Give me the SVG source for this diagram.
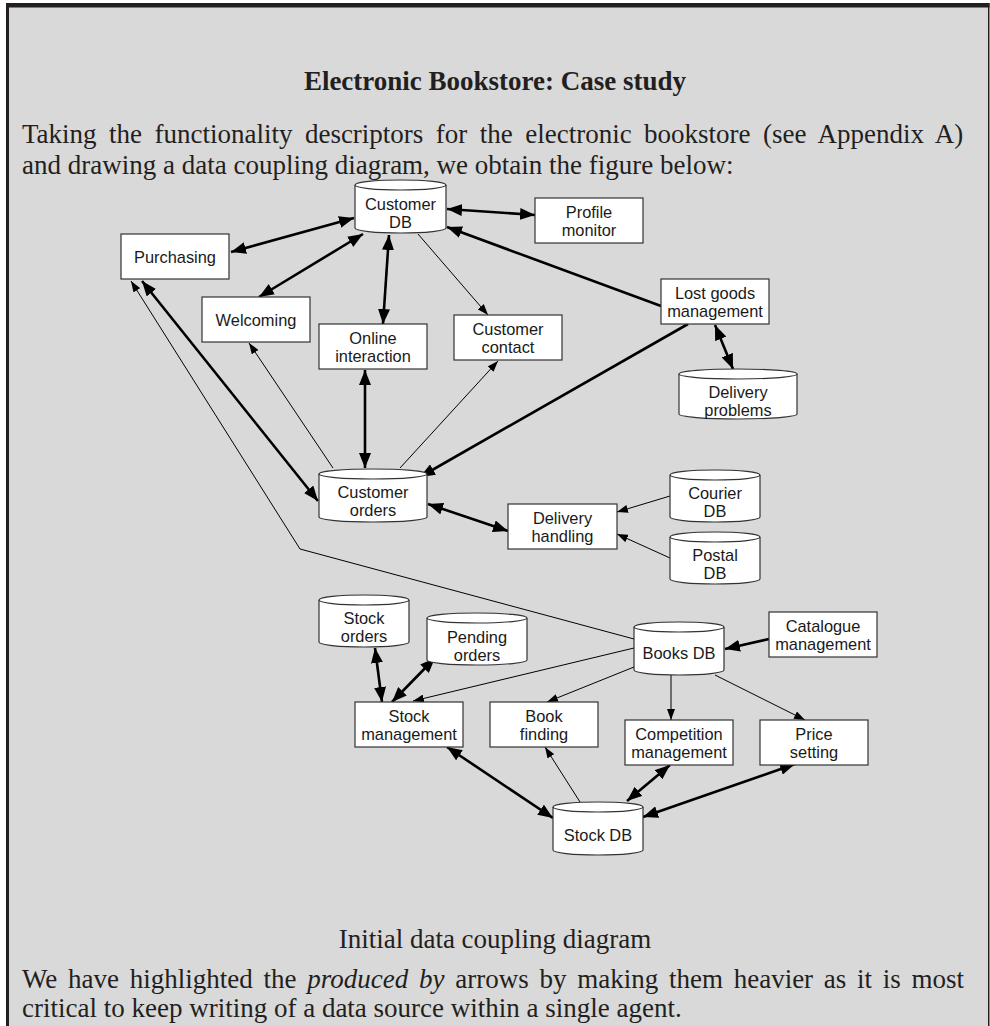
<svg xmlns="http://www.w3.org/2000/svg" width="990" height="1026" viewBox="0 0 990 1026">
  <defs>
    <style>
      .panel { fill: #d9d9d9; }
      .rule { fill: #231f20; }
      .prose { font-family: "Liberation Serif", "Times New Roman", serif; font-size: 27px; fill: #231f20; }
      .title { font-weight: bold; text-anchor: middle; }
      .node rect, .node path, .node ellipse { fill: #ffffff; stroke: #333333; stroke-width: 1.2; }
      .node text { font-family: "Liberation Sans", Arial, sans-serif; font-size: 16.4px; fill: #1a1a1a; text-anchor: middle; }
      .heavy { stroke: #000000; stroke-width: 2.6; fill: none; }
      .light { stroke: #000000; stroke-width: 1; fill: none; }
      .both { marker-start: url(#headHeavy); marker-end: url(#headHeavy); }
      .toEnd { marker-end: url(#headHeavy); }
      .toEndLight { marker-end: url(#headLight); }
    </style>
    <marker id="headHeavy" viewBox="0 0 15 12" refX="15" refY="6" markerWidth="15" markerHeight="12" markerUnits="userSpaceOnUse" orient="auto-start-reverse">
      <path d="M0,0 L15,6 L0,12 Z" fill="#000000"/>
    </marker>
    <marker id="headLight" viewBox="0 0 11 8" refX="11" refY="4" markerWidth="11" markerHeight="8" markerUnits="userSpaceOnUse" orient="auto-start-reverse">
      <path d="M0,0 L11,4 L0,8 Z" fill="#000000"/>
    </marker>
  </defs>

  <!-- framed panel -->
  <rect class="panel" x="8" y="6" width="980" height="1020"/>
  <rect class="rule" x="6" y="3" width="983.5" height="4.5"/>
  <rect class="rule" x="6" y="3" width="3" height="1023"/>
  <rect class="rule" x="988" y="3" width="1.5" height="1023"/>

  <!-- heading and introduction -->
  <text class="prose title" x="495" y="90">Electronic Bookstore: Case study</text>
  <text class="prose" x="22" y="143" word-spacing="5.7">Taking the functionality descriptors for the electronic bookstore (see Appendix A)</text>
  <text class="prose" x="22" y="174">and drawing a data coupling diagram, we obtain the figure below:</text>

  <!-- connectors -->
  <g id="connectors">
    <!-- heavy: produced by -->
    <line class="heavy both" x1="231" y1="252" x2="354" y2="218"/>
    <line class="heavy both" x1="259" y1="297" x2="363" y2="234"/>
    <line class="heavy both" x1="383" y1="324" x2="389" y2="235"/>
    <line class="heavy both" x1="447" y1="209" x2="535" y2="215"/>
    <line class="heavy both" x1="715" y1="325" x2="733" y2="369"/>
    <line class="heavy both" x1="142" y1="281" x2="318" y2="501"/>
    <line class="heavy both" x1="365" y1="370" x2="365" y2="468"/>
    <line class="heavy both" x1="428" y1="504" x2="508" y2="531"/>
    <line class="heavy both" x1="375" y1="648" x2="382" y2="702"/>
    <line class="heavy both" x1="435" y1="658" x2="392" y2="702"/>
    <line class="heavy both" x1="447" y1="747" x2="553" y2="818"/>
    <line class="heavy both" x1="670" y1="765" x2="627" y2="801"/>
    <line class="heavy both" x1="795" y1="764" x2="643" y2="817"/>
    <line class="heavy toEnd" x1="661" y1="306" x2="447" y2="227"/>
    <line class="heavy toEnd" x1="688" y1="324" x2="420" y2="477"/>
    <line class="heavy toEnd" x1="769" y1="639" x2="725" y2="649"/>
    <!-- light: used by -->
    <line class="light toEndLight" x1="418" y1="234" x2="488" y2="315"/>
    <line class="light toEndLight" x1="333" y1="468" x2="249" y2="343"/>
    <line class="light toEndLight" x1="400" y1="468" x2="498" y2="361"/>
    <line class="light toEndLight" x1="670" y1="496" x2="617" y2="512"/>
    <line class="light toEndLight" x1="670" y1="558" x2="617" y2="534"/>
    <polyline class="light toEndLight" points="634,639 300,549 131,281"/>
    <line class="light toEndLight" x1="634" y1="648" x2="413" y2="701"/>
    <line class="light toEndLight" x1="634" y1="667" x2="547" y2="702"/>
    <line class="light toEndLight" x1="671" y1="675" x2="671" y2="720"/>
    <line class="light toEndLight" x1="715" y1="675" x2="805" y2="720"/>
    <line class="light toEndLight" x1="580" y1="802" x2="545" y2="747"/>
  </g>

  <!-- data stores -->
  <g id="customer-db" class="node">
    <path d="M355,185 V228 A45.5,5 0 0 0 446,228 V185"/>
    <ellipse cx="400.5" cy="185" rx="45.5" ry="5"/>
    <text x="400.5" y="210">Customer</text>
    <text x="400.5" y="228">DB</text>
  </g>
  <g id="delivery-problems" class="node">
    <path d="M679,374 V414 A59,5 0 0 0 797,414 V374"/>
    <ellipse cx="738" cy="374" rx="59" ry="5"/>
    <text x="738" y="398">Delivery</text>
    <text x="738" y="416">problems</text>
  </g>
  <g id="customer-orders" class="node">
    <path d="M319,474 V517 A54,5 0 0 0 427,517 V474"/>
    <ellipse cx="373" cy="474" rx="54" ry="5"/>
    <text x="373" y="498">Customer</text>
    <text x="373" y="516">orders</text>
  </g>
  <g id="courier-db" class="node">
    <path d="M670,475 V517 A45,5 0 0 0 760,517 V475"/>
    <ellipse cx="715" cy="475" rx="45" ry="5"/>
    <text x="715" y="499">Courier</text>
    <text x="715" y="517">DB</text>
  </g>
  <g id="postal-db" class="node">
    <path d="M670,537 V579 A45,5 0 0 0 760,579 V537"/>
    <ellipse cx="715" cy="537" rx="45" ry="5"/>
    <text x="715" y="561">Postal</text>
    <text x="715" y="579">DB</text>
  </g>
  <g id="stock-orders" class="node">
    <path d="M319,600 V642 A45,5 0 0 0 409,642 V600"/>
    <ellipse cx="364" cy="600" rx="45" ry="5"/>
    <text x="364" y="624">Stock</text>
    <text x="364" y="642">orders</text>
  </g>
  <g id="pending-orders" class="node">
    <path d="M427,618 V660 A50,5 0 0 0 527,660 V618"/>
    <ellipse cx="477" cy="618" rx="50" ry="5"/>
    <text x="477" y="643">Pending</text>
    <text x="477" y="661">orders</text>
  </g>
  <g id="books-db" class="node">
    <path d="M634,627 V670 A45,5 0 0 0 724,670 V627"/>
    <ellipse cx="679" cy="627" rx="45" ry="5"/>
    <text x="679" y="659">Books DB</text>
  </g>
  <g id="stock-db" class="node">
    <path d="M553,807 V850 A45,5 0 0 0 643,850 V807"/>
    <ellipse cx="598" cy="807" rx="45" ry="5"/>
    <text x="598" y="841">Stock DB</text>
  </g>

  <!-- agents -->
  <g id="purchasing" class="node">
    <rect x="121" y="234" width="108" height="45"/>
    <text x="175" y="262.5">Purchasing</text>
  </g>
  <g id="welcoming" class="node">
    <rect x="202" y="297" width="108" height="45"/>
    <text x="256" y="325.5">Welcoming</text>
  </g>
  <g id="online-interaction" class="node">
    <rect x="319" y="324" width="108" height="45"/>
    <text x="373" y="343.5">Online</text>
    <text x="373" y="361.5">interaction</text>
  </g>
  <g id="customer-contact" class="node">
    <rect x="454" y="315" width="108" height="45"/>
    <text x="508" y="334.5">Customer</text>
    <text x="508" y="352.5">contact</text>
  </g>
  <g id="profile-monitor" class="node">
    <rect x="535" y="198" width="108" height="45"/>
    <text x="589" y="217.5">Profile</text>
    <text x="589" y="235.5">monitor</text>
  </g>
  <g id="lost-goods-management" class="node">
    <rect x="661" y="279" width="108" height="45"/>
    <text x="715" y="298.5">Lost goods</text>
    <text x="715" y="316.5">management</text>
  </g>
  <g id="delivery-handling" class="node">
    <rect x="508" y="504" width="109" height="45"/>
    <text x="562.5" y="523.5">Delivery</text>
    <text x="562.5" y="541.5">handling</text>
  </g>
  <g id="stock-management" class="node">
    <rect x="355" y="702" width="108" height="45"/>
    <text x="409" y="721.5">Stock</text>
    <text x="409" y="739.5">management</text>
  </g>
  <g id="book-finding" class="node">
    <rect x="490" y="702" width="108" height="45"/>
    <text x="544" y="721.5">Book</text>
    <text x="544" y="739.5">finding</text>
  </g>
  <g id="competition-management" class="node">
    <rect x="625" y="720" width="108" height="45"/>
    <text x="679" y="739.5">Competition</text>
    <text x="679" y="757.5">management</text>
  </g>
  <g id="price-setting" class="node">
    <rect x="760" y="720" width="108" height="45"/>
    <text x="814" y="739.5">Price</text>
    <text x="814" y="757.5">setting</text>
  </g>
  <g id="catalogue-management" class="node">
    <rect x="769" y="612" width="108" height="45"/>
    <text x="823" y="631.5">Catalogue</text>
    <text x="823" y="649.5">management</text>
  </g>

  <!-- caption and closing remark -->
  <text class="prose" x="495" y="948" text-anchor="middle">Initial data coupling diagram</text>
  <text class="prose" x="22" y="988" word-spacing="4">We have highlighted the <tspan font-style="italic">produced by</tspan> arrows by making them heavier as it is most</text>
  <text class="prose" x="22" y="1017">critical to keep writing of a data source within a single agent.</text>
</svg>
